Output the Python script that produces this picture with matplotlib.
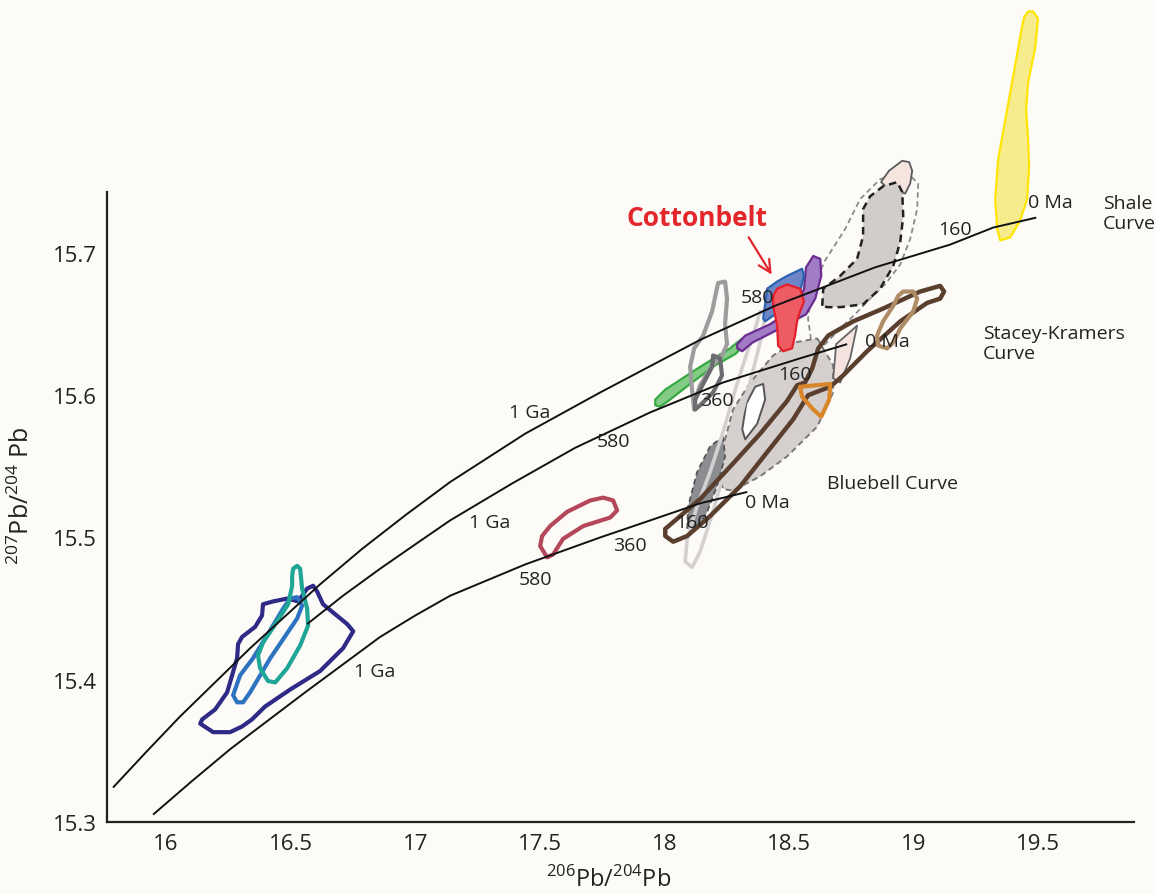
import matplotlib
matplotlib.use("Agg")
import matplotlib.pyplot as plt
from matplotlib.patches import Polygon

plt.rcParams['font.family'] = ['Open Sans', 'DejaVu Sans']
plt.rcParams['mathtext.fontset'] = 'custom'
plt.rcParams['mathtext.rm'] = 'Open Sans'

# ---------------- data (206Pb/204Pb, 207Pb/204Pb) ----------------
x_ticks = [16, 16.5, 17, 17.5, 18, 18.5, 19, 19.5]
x_ticklabels = ['16', '16.5', '17', '17.5', '18', '18.5', '19', '19.5']
y_ticks = [15.3, 15.4, 15.5, 15.6, 15.7]
y_ticklabels = ['15.3', '15.4', '15.5', '15.6', '15.7']

shale_x = [15.787, 15.920, 16.056, 16.337, 16.618, 16.787, 16.963, 17.140, 17.441, 17.742, 18.143, 18.444, 18.845, 19.146, 19.319, 19.492]
shale_y = [15.324, 15.349, 15.374, 15.422, 15.467, 15.492, 15.516, 15.539, 15.573, 15.602, 15.639, 15.663, 15.690, 15.706, 15.718, 15.725]
sk_x = [16.566, 16.710, 16.859, 16.999, 17.140, 17.389, 17.641, 17.943, 18.235, 18.544, 18.733]
sk_y = [15.439, 15.459, 15.478, 15.495, 15.512, 15.538, 15.563, 15.588, 15.609, 15.626, 15.636]
bb_x = [15.948, 16.100, 16.257, 16.558, 16.859, 16.999, 17.140, 17.441, 17.742, 17.943, 18.143, 18.332]
bb_y = [15.305, 15.328, 15.351, 15.391, 15.430, 15.445, 15.459, 15.481, 15.500, 15.512, 15.524, 15.532]

shale_labels = [('1 Ga', 17.461, 15.588), ('580', 18.372, 15.669), ('160', 19.166, 15.717), ('0 Ma', 19.548, 15.736)]
sk_labels = [('1 Ga', 17.300, 15.511), ('580', 17.794, 15.568), ('360', 18.211, 15.597), ('160', 18.524, 15.615), ('0 Ma', 18.894, 15.638)]
bb_labels = [('1 Ga', 16.839, 15.406), ('580', 17.481, 15.471), ('360', 17.862, 15.495), ('160', 18.111, 15.511), ('0 Ma', 18.412, 15.525)]

yellow_x = [19.479, 19.499, 19.487, 19.459, 19.451, 19.459, 19.463, 19.455, 19.427, 19.387, 19.347, 19.335, 19.327, 19.339, 19.375, 19.407, 19.431, 19.443, 19.459]
yellow_y = [15.870, 15.865, 15.844, 15.820, 15.801, 15.780, 15.761, 15.738, 15.723, 15.711, 15.709, 15.717, 15.738, 15.766, 15.801, 15.832, 15.856, 15.866, 15.870]

navy_x = [16.137, 16.189, 16.257, 16.305, 16.345, 16.397, 16.498, 16.618, 16.710, 16.751, 16.727, 16.630, 16.606, 16.590, 16.566, 16.530, 16.486, 16.430, 16.389, 16.385, 16.357, 16.305, 16.289, 16.285, 16.265, 16.245, 16.197, 16.145]
navy_y = [15.369, 15.363, 15.363, 15.367, 15.372, 15.381, 15.393, 15.406, 15.422, 15.434, 15.439, 15.453, 15.462, 15.466, 15.464, 15.455, 15.457, 15.455, 15.453, 15.445, 15.437, 15.430, 15.425, 15.415, 15.403, 15.391, 15.379, 15.372]

blue1_x = [16.269, 16.285, 16.309, 16.337, 16.418, 16.526, 16.546, 16.526, 16.498, 16.470, 16.405, 16.349, 16.297, 16.277]
blue1_y = [15.389, 15.384, 15.384, 15.391, 15.415, 15.443, 15.452, 15.458, 15.457, 15.450, 15.431, 15.415, 15.403, 15.393]

teal_x = [16.510, 16.526, 16.538, 16.546, 16.566, 16.570, 16.538, 16.486, 16.438, 16.409, 16.377, 16.369, 16.389, 16.446, 16.490, 16.506, 16.506]
teal_y = [15.478, 15.480, 15.478, 15.464, 15.450, 15.438, 15.424, 15.408, 15.398, 15.399, 15.408, 15.417, 15.426, 15.441, 15.453, 15.466, 15.473]

rose_x = [17.501, 17.529, 17.553, 17.593, 17.674, 17.782, 17.810, 17.794, 17.754, 17.702, 17.609, 17.541, 17.509]
rose_y = [15.494, 15.486, 15.488, 15.499, 15.508, 15.514, 15.519, 15.526, 15.528, 15.526, 15.518, 15.508, 15.501]

green_x = [17.963, 18.003, 18.143, 18.263, 18.312, 18.324, 18.284, 18.203, 18.103, 18.015, 17.982, 17.963]
green_y = [15.597, 15.604, 15.620, 15.633, 15.640, 15.636, 15.629, 15.621, 15.608, 15.596, 15.592, 15.593]

purple_x = [18.292, 18.324, 18.424, 18.532, 18.560, 18.568, 18.597, 18.625, 18.629, 18.605, 18.568, 18.464, 18.352, 18.312, 18.292]
purple_y = [15.636, 15.642, 15.650, 15.663, 15.675, 15.690, 15.698, 15.696, 15.684, 15.668, 15.657, 15.647, 15.637, 15.631, 15.633]

blue2_x = [18.396, 18.412, 18.452, 18.492, 18.552, 18.560, 18.544, 18.516, 18.436, 18.404]
blue2_y = [15.654, 15.675, 15.680, 15.684, 15.689, 15.684, 15.673, 15.663, 15.656, 15.652]

red_x = [18.452, 18.492, 18.544, 18.560, 18.544, 18.532, 18.524, 18.512, 18.476, 18.456, 18.452, 18.436, 18.436]
red_y = [15.675, 15.678, 15.675, 15.666, 15.659, 15.652, 15.642, 15.633, 15.631, 15.635, 15.649, 15.663, 15.670]

mgray_x = [18.215, 18.243, 18.251, 18.243, 18.251, 18.231, 18.191, 18.143, 18.123, 18.119, 18.111, 18.103, 18.119, 18.155, 18.191]
mgray_y = [15.679, 15.680, 15.668, 15.650, 15.636, 15.628, 15.621, 15.607, 15.597, 15.590, 15.603, 15.620, 15.633, 15.642, 15.659]

dgray_hook_x = [18.195, 18.223, 18.231, 18.195, 18.143, 18.123, 18.123, 18.155, 18.191]
dgray_hook_y = [15.628, 15.626, 15.614, 15.602, 15.593, 15.590, 15.597, 15.608, 15.620]

lgray_x = [18.384, 18.364, 18.324, 18.284, 18.235, 18.183, 18.131, 18.091, 18.083, 18.111, 18.143, 18.191, 18.243, 18.304, 18.352, 18.392, 18.404]
lgray_y = [15.659, 15.647, 15.626, 15.604, 15.574, 15.546, 15.522, 15.499, 15.483, 15.479, 15.490, 15.516, 15.548, 15.583, 15.615, 15.643, 15.657]

gfill_x = [18.613, 18.677, 18.677, 18.613, 18.492, 18.384, 18.275, 18.235, 18.215, 18.243, 18.275, 18.344, 18.436, 18.516]
gfill_y = [15.640, 15.621, 15.602, 15.578, 15.557, 15.543, 15.533, 15.534, 15.546, 15.569, 15.590, 15.609, 15.628, 15.637]

dfill_x = [18.235, 18.243, 18.211, 18.171, 18.131, 18.091, 18.095, 18.131, 18.183]
dfill_y = [15.571, 15.557, 15.536, 15.518, 15.506, 15.506, 15.522, 15.546, 15.564]

ell_x = [18.396, 18.404, 18.372, 18.324, 18.312, 18.328, 18.364]
ell_y = [15.608, 15.597, 15.580, 15.569, 15.576, 15.594, 15.606]

brown_x = [18.003, 18.043, 18.143, 18.275, 18.384, 18.492, 18.532, 18.564, 18.593, 18.617, 18.657, 18.757, 18.877, 19.026, 19.106, 19.122, 19.106, 19.054, 18.946, 18.813, 18.717, 18.665, 18.605, 18.576, 18.516, 18.412, 18.304, 18.183, 18.091, 18.035, 18.003]
brown_y = [15.506, 15.512, 15.527, 15.552, 15.573, 15.596, 15.607, 15.609, 15.619, 15.633, 15.642, 15.652, 15.661, 15.673, 15.677, 15.673, 15.668, 15.665, 15.652, 15.631, 15.614, 15.606, 15.602, 15.600, 15.583, 15.560, 15.536, 15.515, 15.501, 15.497, 15.501]

orange_x = [18.544, 18.665, 18.661, 18.629, 18.597, 18.552]
orange_y = [15.606, 15.608, 15.597, 15.585, 15.590, 15.599]

tan_x = [18.958, 18.998, 19.014, 18.998, 18.946, 18.918, 18.893, 18.857, 18.853, 18.877, 18.918, 18.938]
tan_y = [15.673, 15.673, 15.668, 15.659, 15.647, 15.637, 15.633, 15.635, 15.642, 15.652, 15.663, 15.670]

pink_x = [18.689, 18.773, 18.745, 18.705, 18.677]
pink_y = [15.636, 15.649, 15.626, 15.609, 15.612]

peach_x = [18.869, 18.901, 18.954, 18.982, 18.994, 18.986, 18.966, 18.906]
peach_y = [15.750, 15.758, 15.765, 15.764, 15.758, 15.749, 15.742, 15.744]

dash_fill_x = [18.633, 18.637, 18.705, 18.773, 18.797, 18.797, 18.825, 18.877, 18.934, 18.954, 18.958, 18.946, 18.918, 18.865, 18.797, 18.705, 18.653]
dash_fill_y = [15.663, 15.675, 15.684, 15.696, 15.712, 15.731, 15.740, 15.747, 15.750, 15.743, 15.726, 15.708, 15.691, 15.675, 15.664, 15.662, 15.662]

dash_out_x = [18.593, 18.576, 18.593, 18.645, 18.725, 18.785, 18.865, 18.966, 19.018, 19.014, 18.986, 18.946, 18.885, 18.825, 18.765, 18.705, 18.645]
dash_out_y = [15.633, 15.654, 15.675, 15.695, 15.717, 15.738, 15.752, 15.758, 15.749, 15.731, 15.710, 15.692, 15.678, 15.668, 15.657, 15.647, 15.636]

cotton_label = ('Cottonbelt', 18.131, 15.7254)
arrow_from = (18.332, 15.7128)
arrow_to = (18.436, 15.6832)

# ---------------- figure ----------------
BG = '#fcfbf8'
fig = plt.figure(figsize=(11.56, 8.95), dpi=100, facecolor=BG)
ax = fig.add_axes([107/1156, 72/895, (1134-107)/1156, 823/895])
ax.set_facecolor(BG)
ax.set_xlim(15.763, 19.884)
ax.set_ylim(15.2998, 15.8788)


def poly(xs, ys, ec, fc='none', lw=2.6, ls='-', z=2, alpha=1.0):
    p = Polygon(list(zip(xs, ys)), closed=True, edgecolor=ec, facecolor=fc,
                lw=lw, linestyle=ls, zorder=z, joinstyle='round', alpha=alpha)
    ax.add_patch(p)


# background fields
poly(dash_out_x, dash_out_y, '#8a8a8a', 'none', lw=1.3, ls=(0, (3, 2)), z=1.5)
poly(peach_x, peach_y, '#5a5a5a', '#f6e4df', lw=1.3, z=1.6)
poly(dash_fill_x, dash_fill_y, '#222222', '#d2cdcb', lw=1.8, ls=(0, (3, 2)), z=1.7)
poly(gfill_x, gfill_y, '#777777', '#d5d0ce', lw=1.4, ls=(0, (3, 2)), z=1.5)
poly(dfill_x, dfill_y, '#555555', '#8b8d90', lw=1.3, ls=(0, (3, 2)), z=1.6)
poly(ell_x, ell_y, '#555555', 'white', lw=1.4, z=1.7)
poly(pink_x, pink_y, '#666666', '#f5e3df', lw=1.3, z=1.7)
poly(lgray_x, lgray_y, '#d4d0d0', 'none', lw=2.6, z=1.8)

# coloured fields
poly(yellow_x, yellow_y, '#ffe500', '#f6ec8d', lw=1.6, z=2)
poly(navy_x, navy_y, '#2e2a86', 'none', lw=3.0, z=2)
poly(blue1_x, blue1_y, '#2e73c0', 'none', lw=3.0, z=2.1)
poly(teal_x, teal_y, '#1fa697', 'none', lw=3.0, z=2.2)
poly(rose_x, rose_y, '#b4485a', 'none', lw=3.0, z=2)
poly(green_x, green_y, '#38a843', '#82cc86', lw=1.6, z=2)
poly(mgray_x, mgray_y, '#9c9c9c', 'none', lw=3.0, z=2.1)
poly(dgray_hook_x, dgray_hook_y, '#6b6c6f', 'none', lw=3.0, z=2.2)
poly(purple_x, purple_y, '#6a2d91', '#a27cc4', lw=1.6, z=2.3)
poly(blue2_x, blue2_y, '#2c63b1', '#6d86c8', lw=1.6, z=2.4)
poly(red_x, red_y, '#e4202a', '#ee5b63', lw=1.6, z=2.5)
poly(brown_x, brown_y, '#5a3f2f', 'none', lw=3.2, z=2.6)
poly(orange_x, orange_y, '#d9852a', 'none', lw=3.0, z=2.7)
poly(tan_x, tan_y, '#b08c66', 'none', lw=3.0, z=2.6)

# model curves
for xs, ys in [(shale_x, shale_y), (sk_x, sk_y), (bb_x, bb_y)]:
    ax.plot(xs, ys, color='#111111', lw=1.4, zorder=4, solid_capstyle='butt',
            solid_joinstyle='round')

for labs in (shale_labels, sk_labels, bb_labels):
    for t, lx, ly in labs:
        ax.text(lx, ly, t, fontsize=14, color='#222222', ha='center', va='center', zorder=5)

ax.text(19.760, 15.7285, 'Shale\nCurve', fontsize=14, color='#222222', ha='left', va='center', linespacing=1.15)
ax.text(19.279, 15.637, 'Stacey-Kramers\nCurve', fontsize=14, color='#222222', ha='left', va='center', linespacing=1.15)
ax.text(18.653, 15.538, 'Bluebell Curve', fontsize=14, color='#222222', ha='left', va='center')

ax.text(cotton_label[1], cotton_label[2], cotton_label[0], fontsize=19, fontweight='bold',
        color='#e3262b', ha='center', va='center', zorder=6)
ax.annotate('', xy=arrow_to, xytext=arrow_from,
            arrowprops=dict(arrowstyle='->', color='#e3262b', lw=1.6, mutation_scale=22),
            zorder=6)

# axes styling
for s in ('top', 'right'):
    ax.spines[s].set_visible(False)
for s in ('left', 'bottom'):
    ax.spines[s].set_linewidth(1.6)
    ax.spines[s].set_color('#222222')
ax.spines['left'].set_bounds(15.2998, 15.743)
ax.set_xticks(x_ticks)
ax.set_xticklabels(x_ticklabels)
ax.set_yticks(y_ticks)
ax.set_yticklabels(y_ticklabels)
ax.tick_params(axis='both', length=0, labelsize=16, colors='#222222')
ax.tick_params(axis='x', pad=8)
ax.tick_params(axis='y', pad=7)

fig.text(609/1156, 1 - 880/895, r'$^{206}$Pb/$^{204}$Pb', fontsize=17, ha='center', va='center', color='#222222')
fig.text(22/1156, 1 - 496/895, r'$^{207}$Pb/$^{204}$ Pb', fontsize=18, ha='center', va='center',
         rotation=90, color='#222222')

fig.savefig('out.png', dpi=100, facecolor=BG)
